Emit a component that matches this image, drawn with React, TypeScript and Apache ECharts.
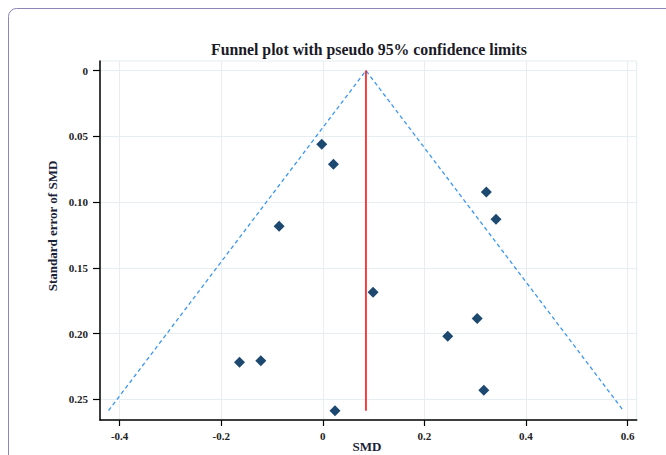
import React, { useEffect, useRef } from "react";
import * as echarts from "echarts";

// Study effect sizes (SMD) and their standard errors
const smd = [-0.002, 0.021, -0.086, 0.322, 0.341, 0.099, 0.304, 0.246, -0.164, -0.122, 0.317, 0.024];
const seSmd = [0.056, 0.0712, 0.1184, 0.0923, 0.1131, 0.1685, 0.1885, 0.202, 0.2218, 0.2207, 0.2431, 0.2586];
const pooledSmd = 0.085;
const xTicks = [-0.4, -0.2, 0, 0.2, 0.4, 0.6];
const yTicks = [0, 0.05, 0.1, 0.15, 0.2, 0.25];
const yTickLabels = ["0", "0.05", "0.10", "0.15", "0.20", "0.25"];

const FONT = "'Liberation Serif', 'Times New Roman', serif";

export default function App() {
  const ref = useRef<HTMLDivElement>(null);
  useEffect(() => {
    if (!ref.current) return;
    const chart = echarts.init(ref.current, null, { renderer: "svg" });
    const seMax = Math.max(...seSmd);
    const z = 1.96;
    const funnel = [
      [pooledSmd - z * seMax, seMax],
      [pooledSmd, 0],
      [pooledSmd + z * seMax, seMax],
    ];
    const points = smd.map((v, i) => [v, seSmd[i]]);
    chart.setOption({
      animation: false,
      backgroundColor: "#ffffff",
      title: {
        text: "Funnel plot with pseudo 95% confidence limits",
        left: 364,
        top: 36,
        textAlign: "center",
        textStyle: { fontFamily: FONT, fontWeight: "bold", fontSize: 15.8, color: "#1a1a28" },
      },
      graphic: [
        {
          type: "rect",
          shape: { x: 8.5, y: 8.5, width: 800, height: 600, r: 8 },
          style: { fill: "none", stroke: "#8c86b6", lineWidth: 1 },
          silent: true,
          z: -10,
        },
        {
          type: "text",
          x: 52,
          y: 226,
          rotation: Math.PI / 2,
          style: {
            text: "Standard error of SMD",
            fontFamily: FONT,
            fontWeight: "bold",
            fontSize: 13,
            fill: "#1a2238",
            align: "center",
            verticalAlign: "middle",
          },
        },
        {
          type: "text",
          x: 367,
          y: 446,
          style: {
            text: "SMD",
            fontFamily: FONT,
            fontWeight: "bold",
            fontSize: 13,
            fill: "#1a2238",
            align: "center",
            verticalAlign: "middle",
          },
        },
      ],
      grid: {
        left: 100,
        top: 61,
        right: 29.3,
        bottom: 35,
        outerBoundsMode: "none",
        containLabel: false,
        show: true,
        borderColor: "#e3ecef",
        borderWidth: 1,
        backgroundColor: "transparent",
      },
      xAxis: {
        type: "value",
        min: -0.4386,
        max: 0.618,
        axisLine: { show: true, onZero: false, lineStyle: { color: "#000", width: 1.5 } },
        axisTick: { show: true, length: 6, customValues: xTicks, lineStyle: { color: "#000", width: 1.2 } },
        axisLabel: {
          customValues: xTicks,
          margin: 10,
          fontFamily: FONT,
          fontWeight: "bold",
          fontSize: 11,
          color: "#222222",
          formatter: (v: number) => (v === 0 ? "0" : String(Math.round(v * 10) / 10)),
        },
        splitLine: { show: true, lineStyle: { color: "#e6eef1", width: 1 } },
      },
      yAxis: {
        type: "value",
        inverse: true,
        min: -0.0073,
        max: 0.2657,
        axisLine: { show: true, onZero: false, lineStyle: { color: "#000", width: 1.5 } },
        axisTick: { show: true, length: 7, customValues: yTicks, lineStyle: { color: "#000", width: 1.2 } },
        axisLabel: {
          customValues: yTicks,
          margin: 12,
          fontFamily: FONT,
          fontWeight: "bold",
          fontSize: 11,
          color: "#222222",
          formatter: (v: number) => {
            const idx = yTicks.findIndex((t) => Math.abs(t - v) < 1e-9);
            return idx >= 0 ? yTickLabels[idx] : "";
          },
        },
        splitLine: { show: true, lineStyle: { color: "#e6eef1", width: 1 } },
      },
      series: [
        {
          type: "line",
          data: funnel,
          symbol: "none",
          lineStyle: { color: "#3a96f5", width: 1.3, type: [4, 3] },
          z: 2,
        },
        {
          type: "line",
          data: [
            [pooledSmd, 0],
            [pooledSmd, seMax],
          ],
          symbol: "none",
          lineStyle: { color: "#ff0000", width: 1.5 },
          z: 3,
        },
        {
          type: "scatter",
          data: points,
          symbol: "diamond",
          symbolSize: [11, 11],
          itemStyle: { color: "#1d4870", opacity: 1 },
          z: 4,
        },
      ],
    });
    return () => chart.dispose();
  }, []);
  return (
    <div
      ref={ref}
      style={{ position: "absolute", left: 0, top: 0, width: 666, height: 455 }}
    />
  );
}
